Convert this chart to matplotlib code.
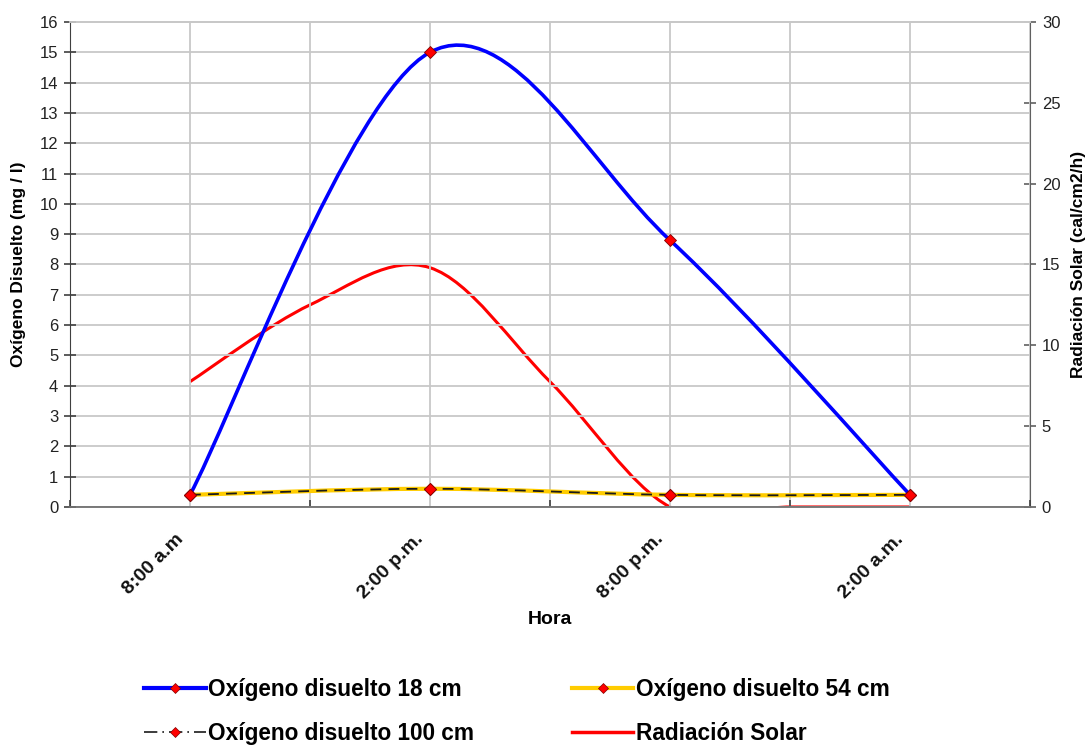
import matplotlib.pyplot as plt
import numpy as np
from matplotlib.path import Path
from matplotlib.patches import PathPatch
from matplotlib.lines import Line2D
from matplotlib.transforms import ScaledTranslation

plt.rcParams['font.family'] = ['Liberation Sans', 'DejaVu Sans']

# horas desde las 8:00 a.m.
horas_ox = [0, 6, 12, 18]
horas_rad = [0, 3, 6, 9, 12, 15, 18]
etiquetas = ["8:00 a.m", "2:00 p.m.", "8:00 p.m.", "2:00 a.m."]

ox_18 = [0.4, 15.0, 8.8, 0.4]
ox_54 = [0.4, 0.6, 0.4, 0.4]
ox_100 = [0.4, 0.6, 0.4, 0.4]
radiacion = [7.75, 12.5, 14.8, 7.75, 0.0, 0.0, 0.0]


def curva_suave(x, y):
    # bezier tipo Excel (linea suavizada)
    x = np.asarray(x, float)
    y = np.asarray(y, float)
    n = len(x)
    verts = [(x[0], y[0])]
    codes = [Path.MOVETO]
    for i in range(n - 1):
        i0 = max(i - 1, 0)
        i3 = min(i + 2, n - 1)
        c1 = (x[i] + (x[i + 1] - x[i0]) / 6, y[i] + (y[i + 1] - y[i0]) / 6)
        c2 = (x[i + 1] - (x[i3] - x[i]) / 6, y[i + 1] - (y[i3] - y[i]) / 6)
        verts += [c1, c2, (x[i + 1], y[i + 1])]
        codes += [Path.CURVE4] * 3
    return Path(verts, codes)


fig = plt.figure(figsize=(10.88, 7.45), dpi=100)
ax = fig.add_axes([0.0643, 0.3195, 0.8824, 0.651])
ax2 = ax.twinx()
ax.set_zorder(ax2.get_zorder() + 1)
ax.patch.set_visible(False)

gris = '#c8c8c8'
ax.set_xlim(-3, 21)
ax.set_ylim(0, 16)
ax2.set_ylim(0, 30)
ax.set_yticks(range(0, 17))
ax2.set_yticks(range(0, 31, 5))
ax.set_xticks(horas_ox)
ax.set_xticklabels(etiquetas, rotation=45, ha='right', rotation_mode='anchor',
                   fontsize=14, fontweight='bold')
ax.set_xticks(range(-3, 22, 6), minor=True)
ax.grid(True, which='both', color=gris, linewidth=1.3)
ax.set_axisbelow(True)

for a in (ax, ax2):
    a.spines['top'].set_color(gris)
    a.spines['top'].set_linewidth(1.3)
ax.spines['left'].set_color('#404040')
ax.spines['right'].set_visible(False)
ax.spines['bottom'].set_color('#707070')
ax.spines['bottom'].set_linewidth(1.3)
ax.spines['bottom'].set_zorder(5)
ax2.spines['left'].set_visible(False)
ax2.spines['bottom'].set_visible(False)
ax2.spines['right'].set_color('#606060')

ax.tick_params(axis='y', direction='inout', length=9, width=1.2, color='#404040',
               labelsize=12, labelcolor='#222222', pad=4)
ax2.tick_params(axis='y', direction='inout', length=9, width=1.2, color='#606060',
                labelsize=12, labelcolor='#222222', pad=4)
ax.tick_params(axis='x', which='major', length=0, pad=17, labelcolor='#111111')
ax.tick_params(axis='x', which='minor', direction='in', length=5, width=1.2, color='#404040')
desplaza = ScaledTranslation(-0.15, 0, fig.dpi_scale_trans)
for lbl in ax.get_xticklabels():
    lbl.set_transform(lbl.get_transform() + desplaza)

ax.set_ylabel("Oxígeno Disuelto (mg / l)", fontsize=12.5, fontweight='bold')
ax.yaxis.set_label_coords(-0.046, 0.5)
ax2.set_ylabel("Radiación Solar (cal/cm2/h)", fontsize=12.5, fontweight='bold', rotation=90)
ax2.yaxis.set_label_coords(1.043, 0.5)
ax.set_xlabel("Hora", fontsize=14, fontweight='bold')
ax.xaxis.set_label_coords(0.5, -0.214)

# radiacion solar (eje derecho)
ax2.add_patch(PathPatch(curva_suave(horas_rad, radiacion), fill=False,
                        edgecolor='#ff0000', linewidth=2.2, zorder=2))

# oxigeno disuelto (eje izquierdo)
ax.add_patch(PathPatch(curva_suave(horas_ox, ox_54), fill=False,
                       edgecolor='#ffcc00', linewidth=3, zorder=3))
ax.add_patch(PathPatch(curva_suave(horas_ox, ox_100), fill=False, edgecolor='#1a1a1a',
                       linewidth=1.3, linestyle=(0, (6, 4)), zorder=3.5))
ax.add_patch(PathPatch(curva_suave(horas_ox, ox_18), fill=False,
                       edgecolor='#0000ff', linewidth=2.6, zorder=4))
mk = dict(marker='D', markersize=6.5, markerfacecolor='#ff0000',
          markeredgecolor='#800000', markeredgewidth=0.6, linestyle='none', zorder=6)
for serie in (ox_54, ox_100, ox_18):
    ax.plot(horas_ox, serie, **mk)

mkl = dict(marker='D', markersize=5, markerfacecolor='#ff0000',
           markeredgecolor='#800000', markeredgewidth=0.5)
h18 = Line2D([], [], color='#0000ff', linewidth=3, **mkl)
h54 = Line2D([], [], color='#ffcc00', linewidth=3, **mkl)
h100 = Line2D([], [], color='#1a1a1a', linewidth=1.2, linestyle=(0, (8, 3, 1, 3)), **mkl)
hrad = Line2D([], [], color='#ff0000', linewidth=2.5)
fig.legend([h18, h100, h54, hrad],
           ["Oxígeno disuelto 18 cm", "Oxígeno disuelto 100 cm",
            "Oxígeno disuelto 54 cm", "Radiación Solar"],
           ncol=2, loc='center left', bbox_to_anchor=(0.114, 0.045),
           frameon=False, handlelength=2.7, handletextpad=0.1,
           columnspacing=4.35, labelspacing=0.95,
           prop={'weight': 'bold', 'size': 16.3})

fig.savefig("out.png", dpi=100)
